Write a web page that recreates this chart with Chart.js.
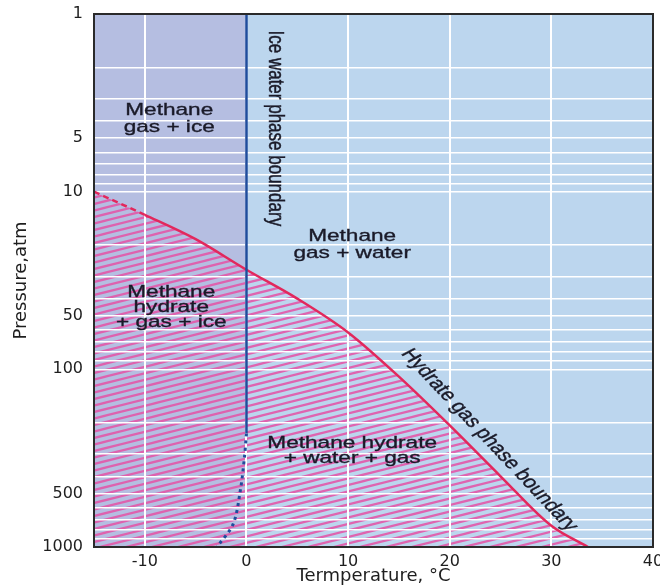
<!DOCTYPE html>
<html lang="en">
<head>
<meta charset="UTF-8">
<title>Methane hydrate phase diagram</title>
<script src="https://cdn.jsdelivr.net/npm/chart.js"></script>
<style>
  html, body { margin: 0; padding: 0; background: #fff; }
</style>
</head>
<body>
<canvas id="phase-chart" width="660" height="585"></canvas>
<script>
// values: temperature in °C, pressure in atm
const hydrateTemp  = [-15, -10, -5, 0, 5, 10, 15, 20, 25, 30, 33.6];
const hydratePress = [10, 13.5, 18.5, 27.5, 40, 62, 110, 207, 400, 760, 1000];

const iceTemp  = [0, 0];
const icePress = [1, 230];
const iceDottedTemp  = [0, -0.2, -0.6, -1.3, -2.9];
const iceDottedPress = [230, 314, 480, 741, 1000];

const plotTemp      = [-15, 40];  // whole plot, light blue
const iceRegionTemp = [-15, 0];   // gas + ice side, lavender band
const topPress      = [1, 1];

const tempTicks   = [-10, 0, 10, 20, 30, 40];
const pressLabels = [1, 5, 10, 50, 100, 500, 1000];
const pressGrid = [];
[1, 10, 100].forEach(d => { for (let k = 1; k < 10; k++) pressGrid.push(k * d); });
pressGrid.push(1000);

const regionLabels = [
    { lines: ['Methane', 'gas + ice'], t: -7.6, p: 3.9, gap: 17 },
    { lines: ['Methane', 'gas + water'], t: 10.4, p: 19.8, gap: 17 },
    { lines: ['Methane', 'hydrate', '+ gas + ice'], t: -7.4, p: 44.6, gap: 15 },
    { lines: ['Methane hydrate', '+ water + gas'], t: 10.4, p: 287, gap: 15 }
];
const boundaryLabels = [
    { text: 'Ice water phase boundary', t: 2.8, p: 4.4, angle: 90 },
    { text: 'Hydrate gas phase boundary', t: 23.9, p: 250, angle: 46.8 }
];

const SX = 1.33;   // the source picture is stretched sideways

function pts(xs, ys) {
    return xs.map((x, i) => ({ x: x, y: ys[i] }));
}

function makeHatch() {
    const c = document.createElement('canvas');
    c.width = 52; c.height = 13;
    const g = c.getContext('2d');
    g.strokeStyle = 'rgba(226, 88, 168, 0.9)';
    g.lineWidth = 2.2;
    for (let k = -4; k <= 6; k++) {
        g.beginPath();
        g.moveTo(-52, 26 + k * 6.5);
        g.lineTo(104, -13 + k * 6.5);
        g.stroke();
    }
    return g.createPattern(c, 'repeat');
}

function stretchedText(ctx, txt, px, py, deg) {
    const ang = Math.atan(SX * Math.tan(deg * Math.PI / 180));
    ctx.save();
    ctx.translate(px, py);
    ctx.scale(SX, 1);
    ctx.rotate(deg >= 90 ? Math.PI / 2 : ang);
    ctx.fillText(txt, 0, 0);
    ctx.strokeText(txt, 0, 0);
    ctx.restore();
}

const labels = {
    id: 'labels',
    afterDatasetsDraw(chart) {
        const { ctx, chartArea: a, scales: { x, y } } = chart;
        ctx.save();
        ctx.fillStyle = '#1a1a28';
        ctx.strokeStyle = '#1a1a28';
        ctx.lineWidth = 0.35;
        ctx.font = '17px "Liberation Sans", Arial, sans-serif';
        ctx.textAlign = 'center';
        ctx.textBaseline = 'middle';
        regionLabels.forEach(r => {
            const cx = x.getPixelForValue(r.t);
            const cy = y.getPixelForValue(r.p) - (r.lines.length - 1) * r.gap / 2;
            r.lines.forEach((ln, i) => stretchedText(ctx, ln, cx, cy + i * r.gap, 0));
        });
        boundaryLabels.forEach(b => {
            stretchedText(ctx, b.text, x.getPixelForValue(b.t), y.getPixelForValue(b.p), b.angle);
        });
        // frame round the plot
        ctx.strokeStyle = '#2a2a2a';
        ctx.lineWidth = 2;
        ctx.strokeRect(a.left, a.top, a.width, a.height);
        ctx.restore();
    }
};

const tickFont = { family: 'DejaVu Sans', size: 16 };
const titleFont = { family: 'DejaVu Sans', size: 18, lineHeight: 1 };

const bandStyle = { borderWidth: 0, pointRadius: 0, fill: { value: 1000 } };

new Chart(document.getElementById('phase-chart'), {
    type: 'line',
    data: {
        datasets: [
            {
                label: 'Ice water phase boundary',
                data: pts(iceTemp, icePress),
                borderColor: '#1f4c9c',
                borderWidth: 2.5,
                pointRadius: 0,
                fill: false
            },
            {
                label: 'Ice water phase boundary (extrapolated)',
                data: pts(iceDottedTemp, iceDottedPress),
                borderColor: '#1f4c9c',
                borderWidth: 3,
                borderDash: [3, 4],
                tension: 0.3,
                pointRadius: 0,
                fill: false
            },
            {
                label: 'Hydrate gas phase boundary',
                data: pts(hydrateTemp, hydratePress),
                borderColor: '#e2285c',
                borderWidth: 2.5,
                backgroundColor: makeHatch(),
                fill: { value: 1000 },
                cubicInterpolationMode: 'monotone',
                pointRadius: 0,
                segment: {
                    borderDash: c => c.p1.parsed.x <= -10 ? [6, 4] : undefined
                }
            },
            Object.assign({ label: 'gas + ice', data: pts(iceRegionTemp, topPress), backgroundColor: '#b5bee1' }, bandStyle),
            Object.assign({ label: 'background', data: pts(plotTemp, topPress), backgroundColor: '#bcd6ee' }, bandStyle)
        ]
    },
    options: {
        responsive: false,
        animation: false,
        layout: { padding: { top: 14, right: 7, left: 0, bottom: 0 }, autoPadding: false },
        plugins: {
            legend: { display: false },
            tooltip: { enabled: false },
            filler: { drawTime: 'beforeDraw' }
        },
        scales: {
            x: {
                type: 'linear',
                min: -15,
                max: 40,
                afterBuildTicks: s => { s.ticks = tempTicks.map(v => ({ value: v })); },
                afterFit: s => { s.height = 38; s.paddingLeft = 0; s.paddingRight = 0; },
                grid: { color: '#ffffff', lineWidth: 2, drawTicks: false },
                border: { display: true, color: '#2a2a2a', width: 2 },
                ticks: { color: '#1e1e1e', font: tickFont, padding: 5, autoSkip: false, maxRotation: 0 },
                title: { display: true, text: 'Termperature, °C', color: '#1e1e1e', font: titleFont, padding: { top: 0, bottom: 0 } }
            },
            y: {
                type: 'logarithmic',
                min: 1,
                max: 1000,
                reverse: true,
                afterBuildTicks: s => { s.ticks = pressGrid.map(v => ({ value: v })); },
                afterFit: s => { s.width = 94; s.paddingTop = 0; s.paddingBottom = 0; },
                grid: { color: '#ffffff', lineWidth: 1.5, drawTicks: false },
                border: { display: true, color: '#2a2a2a', width: 2 },
                ticks: {
                    color: '#1e1e1e',
                    font: tickFont,
                    padding: 11,
                    autoSkip: false,
                    callback: v => pressLabels.includes(v) ? String(v) : ''
                },
                title: { display: true, text: 'Pressure,atm', color: '#1e1e1e', font: titleFont, padding: { top: 12, bottom: 0 } }
            }
        }
    },
    plugins: [labels]
});
</script>
</body>
</html>
